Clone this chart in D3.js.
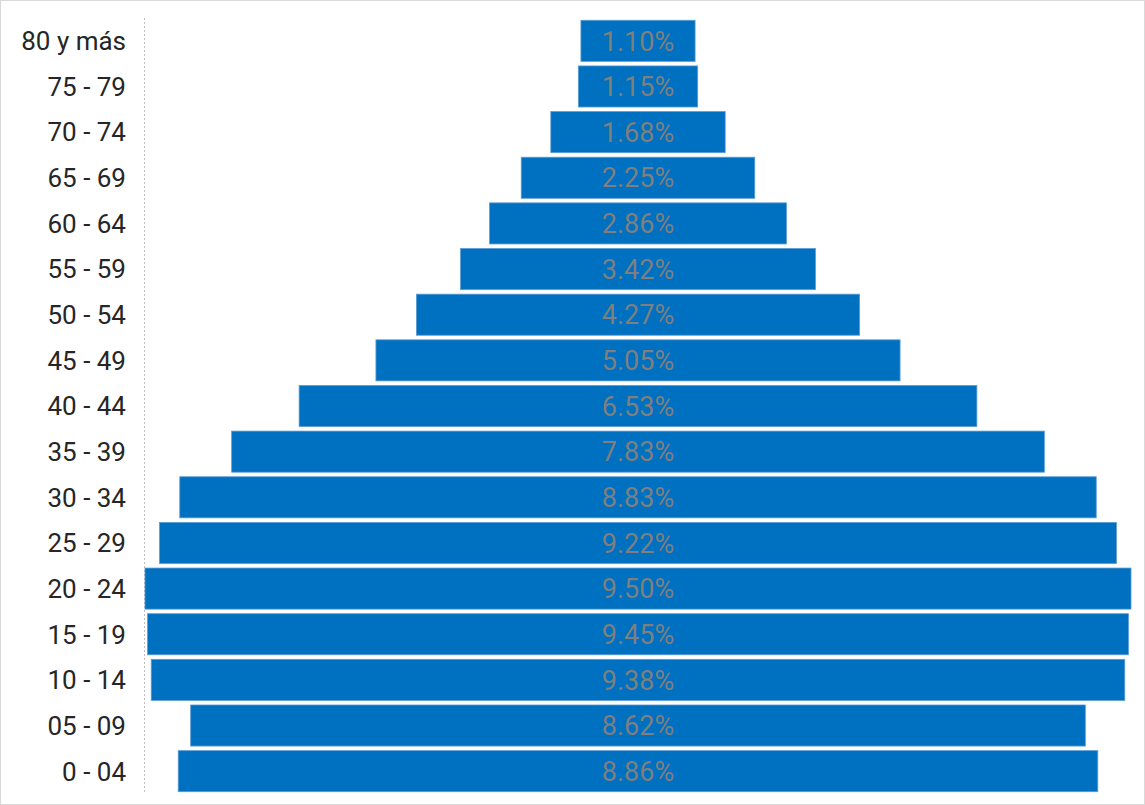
<!DOCTYPE html>
<html>
<head>
<meta charset="utf-8">
<script src="https://cdn.jsdelivr.net/npm/d3@7"></script>
<style>
  body { margin: 0; background: #fff; }
  svg { display: block; font-family: Roboto, "Liberation Sans", Arial, sans-serif; }
</style>
</head>
<body>
<svg width="1145" height="805"></svg>
<script>
// age groups, top to bottom
const groups = ['80 y más', '75 - 79', '70 - 74', '65 - 69', '60 - 64', '55 - 59', '50 - 54', '45 - 49',
  '40 - 44', '35 - 39', '30 - 34', '25 - 29', '20 - 24', '15 - 19', '10 - 14', '05 - 09', '0 - 04'];
const shares = [1.10, 1.15, 1.68, 2.25, 2.86, 3.42, 4.27, 5.05, 6.53, 7.83, 8.83, 9.22, 9.50, 9.45, 9.38, 8.62, 8.86];

const data = groups.map((g, i) => ({ group: g, value: shares[i] }));

const svg = d3.select('svg');

// frame
svg.append('rect')
  .attr('x', 0.5).attr('y', 0.5).attr('width', 1144).attr('height', 804)
  .attr('fill', 'none').attr('stroke', '#d9d9d9');

const center = 638;

const y = d3.scaleBand().domain(groups).range([18, 794]).paddingInner(0.1).paddingOuter(0.05);
const w = d3.scaleLinear().domain([0, 9.5]).range([0, 986]);

// axis line
svg.append('line')
  .attr('x1', 144.5).attr('x2', 144.5)
  .attr('y1', 18).attr('y2', 792)
  .attr('stroke', '#bfbfbf').attr('stroke-dasharray', '2,2');

svg.selectAll('rect.bar').data(data).enter()
  .append('rect')
  .attr('class', 'bar')
  .attr('x', (d) => center - w(d.value) / 2)
  .attr('y', (d) => y(d.group))
  .attr('width', (d) => w(d.value))
  .attr('height', y.bandwidth())
  .attr('fill', '#0070c0')
  .attr('stroke', '#5b9bd5')
  .attr('stroke-width', 0.8);

svg.selectAll('text.val').data(data).enter()
  .append('text')
  .attr('class', 'val')
  .attr('x', center)
  .attr('y', (d) => y(d.group) + y.bandwidth() / 2)
  .attr('dy', '0.36em')
  .attr('text-anchor', 'middle')
  .attr('font-size', 27)
  .attr('fill', '#7f7f7f')
  .text((d) => d.value.toFixed(2) + '%');

svg.selectAll('text.cat').data(data).enter()
  .append('text')
  .attr('class', 'cat')
  .attr('x', 126)
  .attr('y', (d) => y(d.group) + y.bandwidth() / 2)
  .attr('dy', '0.36em')
  .attr('text-anchor', 'end')
  .attr('font-size', 26)
  .attr('fill', '#262626')
  .text((d) => d.group);
</script>
</body>
</html>
